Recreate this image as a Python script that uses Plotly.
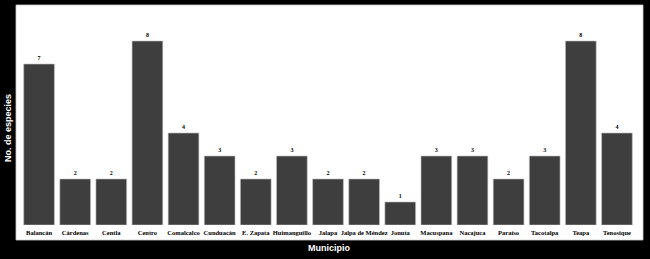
import plotly.graph_objects as go

municipios = ["Balancán", "Cárdenas", "Centla", "Centro", "Comalcalco", "Cunduacán",
              "E. Zapata", "Huimanguillo", "Jalapa", "Jalpa de Méndez", "Jonuta",
              "Macuspana", "Nacajuca", "Paraíso", "Tacotalpa", "Teapa", "Tenosique"]
especies = [7, 2, 2, 8, 4, 3, 2, 3, 2, 2, 1, 3, 3, 2, 3, 8, 4]

W, H = 650, 259
L, R, T, B = 21, 15, 10, 34
pw, ph = W - L - R, H - T - B

def px_to_paper_x(px):
    return (px - L) / pw

def py_to_paper_y(py):
    return (H - B - py) / ph

fig = go.Figure()
fig.add_trace(go.Bar(
    x=municipios, y=especies,
    marker=dict(color="#3e3e3e", line=dict(color="#bdbdbd", width=0.6)),
    width=0.85,
    text=[f"<b>{v}</b>" for v in especies], textposition="outside",
    textfont=dict(family="Liberation Serif", size=6, color="black"),
    cliponaxis=False,
))

fig.add_shape(type="rect", xref="paper", yref="paper",
              x0=px_to_paper_x(16), x1=px_to_paper_x(643),
              y0=py_to_paper_y(240), y1=py_to_paper_y(5),
              fillcolor="white", line=dict(color="#cccccc", width=0.8), layer="below")

fig.add_annotation(xref="paper", yref="paper", x=px_to_paper_x(329), y=py_to_paper_y(248),
                   text="<b>Municipio</b>", showarrow=False, xanchor="center", yanchor="middle",
                   font=dict(family="Liberation Sans", size=9, color="white"))
fig.add_annotation(xref="paper", yref="paper", x=px_to_paper_x(8), y=py_to_paper_y(128),
                   text="<b>No. de especies</b>", showarrow=False, textangle=-90,
                   xanchor="center", yanchor="middle",
                   font=dict(family="Liberation Sans", size=9, color="white"))

fig.update_layout(
    width=W, height=H,
    margin=dict(l=L, r=R, t=T, b=B),
    paper_bgcolor="black", plot_bgcolor="rgba(0,0,0,0)",
    showlegend=False,
    font=dict(family="Liberation Serif"),
)
fig.update_xaxes(
    showgrid=False, zeroline=False, showline=False, ticks="",
    tickfont=dict(family="Liberation Serif", size=6.5, color="black", weight="bold"),
    ticklabelstandoff=2,
)
fig.update_yaxes(
    range=[0, 9.35], showgrid=False, zeroline=False, showline=False,
    showticklabels=False, ticks="",
)

fig.write_html("out.html")
